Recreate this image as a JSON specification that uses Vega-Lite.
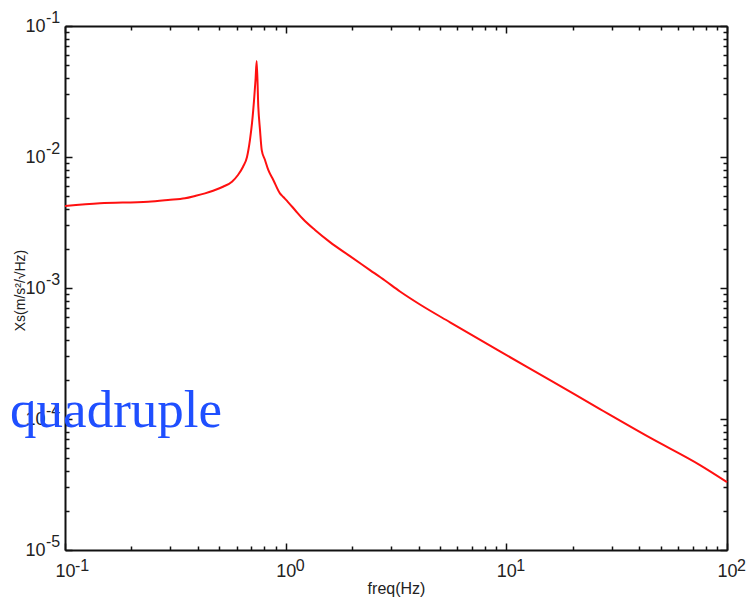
{
  "$schema": "https://vega.github.io/schema/vega-lite/v6.json",
  "width": 662,
  "height": 524,
  "autosize": "none",
  "padding": {"left": 65, "top": 26, "right": 24, "bottom": 51},
  "background": "white",
  "config": {
    "view": {"stroke": null},
    "axis": {
      "domainColor": "#111111",
      "domainWidth": 2,
      "tickColor": "#111111",
      "tickWidth": 1.5,
      "grid": false,
      "labelFlush": false,
      "labelFont": "Liberation Sans",
      "labelFontSize": 18,
      "labelColor": "#222222",
      "titleFont": "Liberation Sans",
      "titleFontWeight": "normal",
      "titleColor": "#222222"
    }
  },
  "datasets": {
    "curve": [
      {"f": 0.1, "v": 0.00423},
      {"f": 0.144, "v": 0.00443},
      {"f": 0.238, "v": 0.00456},
      {"f": 0.293, "v": 0.0047},
      {"f": 0.35, "v": 0.00484},
      {"f": 0.388, "v": 0.00504},
      {"f": 0.431, "v": 0.00528},
      {"f": 0.469, "v": 0.00553},
      {"f": 0.52, "v": 0.00593},
      {"f": 0.571, "v": 0.00648},
      {"f": 0.608, "v": 0.00729},
      {"f": 0.641, "v": 0.00843},
      {"f": 0.668, "v": 0.0100},
      {"f": 0.689, "v": 0.0135},
      {"f": 0.704, "v": 0.0182},
      {"f": 0.719, "v": 0.0272},
      {"f": 0.73, "v": 0.0387},
      {"f": 0.739, "v": 0.054},
      {"f": 0.7516, "v": 0.0242},
      {"f": 0.765, "v": 0.0161},
      {"f": 0.779, "v": 0.0113},
      {"f": 0.806, "v": 0.00949},
      {"f": 0.834, "v": 0.00796},
      {"f": 0.879, "v": 0.00668},
      {"f": 0.942, "v": 0.00528},
      {"f": 0.976, "v": 0.00495},
      {"f": 1.025, "v": 0.00453},
      {"f": 1.102, "v": 0.00394},
      {"f": 1.198, "v": 0.00336},
      {"f": 1.358, "v": 0.00277},
      {"f": 1.588, "v": 0.00224},
      {"f": 1.956, "v": 0.00175},
      {"f": 2.41, "v": 0.00137},
      {"f": 2.818, "v": 0.00114},
      {"f": 3.297, "v": 0.00094},
      {"f": 4.06, "v": 0.000748},
      {"f": 5.56, "v": 0.000547},
      {"f": 9.36, "v": 0.000328},
      {"f": 15.78, "v": 0.000198},
      {"f": 26.57, "v": 0.000119},
      {"f": 44.77, "v": 0.000072},
      {"f": 75.44, "v": 0.0000445},
      {"f": 100, "v": 0.000033}
    ],
    "note": [
      {"f": 0.0564, "v": 0.0000869, "label": "quadruple"}
    ],
    "yexp": [
      {"f": 0.1, "v": 0.1, "e": "-1"},
      {"f": 0.1, "v": 0.01, "e": "-2"},
      {"f": 0.1, "v": 0.001, "e": "-3"},
      {"f": 0.1, "v": 0.0001, "e": "-4"},
      {"f": 0.1, "v": 0.00001, "e": "-5"}
    ],
    "xexp": [
      {"f": 0.1, "v": 0.00001, "e": "-1"},
      {"f": 1, "v": 0.00001, "e": "0"},
      {"f": 10, "v": 0.00001, "e": "1"},
      {"f": 100, "v": 0.00001, "e": "2"}
    ]
  },
  "layer": [
    {
      "data": {"name": "curve"},
      "mark": {"type": "line", "color": "#ff1010", "strokeWidth": 2, "interpolate": "monotone"},
      "encoding": {
        "x": {
          "field": "f", "type": "quantitative",
          "scale": {"type": "log", "domain": [0.1, 100], "nice": false},
          "axis": {
            "orient": "bottom",
            "title": "freq(Hz)",
            "titleFontSize": 16,
            "titlePadding": 0,
            "values": [0.1,0.2,0.3,0.4,0.5,0.6,0.7,0.8,0.9,1,2,3,4,5,6,7,8,9,10,20,30,40,50,60,70,80,90,100],
            "labelExpr": "datum.value == 0.1 || datum.value == 1 || datum.value == 10 || datum.value == 100 ? '10' : ''",
            "labelPadding": 19,
            "tickSize": {"condition": {"test": "datum.value == 0.1 || datum.value == 1 || datum.value == 10 || datum.value == 100", "value": -7}, "value": -4}
          }
        },
        "y": {
          "field": "v", "type": "quantitative",
          "scale": {"type": "log", "domain": [0.00001, 0.1], "nice": false},
          "axis": {
            "orient": "left",
            "title": "Xs(m/s²/√Hz)",
            "titleFontSize": 14,
            "titleX": -38,
            "titleY": 264,
            "values": [0.00001,0.00002,0.00003,0.00004,0.00005,0.00006,0.00007,0.00008,0.00009,0.0001,0.0002,0.0003,0.0004,0.0005,0.0006,0.0007,0.0008,0.0009,0.001,0.002,0.003,0.004,0.005,0.006,0.007,0.008,0.009,0.01,0.02,0.03,0.04,0.05,0.06,0.07,0.08,0.09,0.1],
            "labelExpr": "datum.value == 0.1 || datum.value == 0.01 || datum.value == 0.001 || datum.value == 0.0001 || datum.value == 0.00001 ? '10' : ''",
            "labelPadding": 27,
            "tickSize": {"condition": {"test": "datum.value == 0.1 || datum.value == 0.01 || datum.value == 0.001 || datum.value == 0.0001 || datum.value == 0.00001", "value": -7}, "value": -4}
          }
        }
      }
    },
    {
      "data": {"name": "curve"},
      "mark": {"type": "line", "opacity": 0},
      "encoding": {
        "x": {
          "field": "f", "type": "quantitative",
          "axis": {
            "orient": "top",
            "title": null,
            "labels": false,
            "values": [0.1,0.2,0.3,0.4,0.5,0.6,0.7,0.8,0.9,1,2,3,4,5,6,7,8,9,10,20,30,40,50,60,70,80,90,100],
            "tickSize": {"condition": {"test": "datum.value == 0.1 || datum.value == 1 || datum.value == 10 || datum.value == 100", "value": -7}, "value": -4}
          }
        },
        "y": {
          "field": "v", "type": "quantitative",
          "axis": {
            "orient": "right",
            "title": null,
            "labels": false,
            "values": [0.00001,0.00002,0.00003,0.00004,0.00005,0.00006,0.00007,0.00008,0.00009,0.0001,0.0002,0.0003,0.0004,0.0005,0.0006,0.0007,0.0008,0.0009,0.001,0.002,0.003,0.004,0.005,0.006,0.007,0.008,0.009,0.01,0.02,0.03,0.04,0.05,0.06,0.07,0.08,0.09,0.1],
            "tickSize": {"condition": {"test": "datum.value == 0.1 || datum.value == 0.01 || datum.value == 0.001 || datum.value == 0.0001 || datum.value == 0.00001", "value": -7}, "value": -4}
          }
        }
      }
    },
    {
      "data": {"name": "yexp"},
      "mark": {"type": "text", "font": "Liberation Sans", "fontSize": 16, "color": "#222222", "align": "left", "baseline": "alphabetic", "dx": -19, "dy": -3},
      "encoding": {
        "x": {"field": "f", "type": "quantitative", "axis": null},
        "y": {"field": "v", "type": "quantitative", "axis": null},
        "text": {"field": "e"}
      }
    },
    {
      "data": {"name": "xexp"},
      "mark": {"type": "text", "font": "Liberation Sans", "fontSize": 16, "color": "#222222", "align": "left", "baseline": "alphabetic", "dx": 10, "dy": 21},
      "encoding": {
        "x": {"field": "f", "type": "quantitative", "axis": null},
        "y": {"field": "v", "type": "quantitative", "axis": null},
        "text": {"field": "e"}
      }
    },
    {
      "data": {"name": "note"},
      "mark": {"type": "text", "font": "Liberation Serif", "fontSize": 53, "color": "#1f4fff", "align": "left", "baseline": "alphabetic"},
      "encoding": {
        "x": {"field": "f", "type": "quantitative", "axis": null},
        "y": {"field": "v", "type": "quantitative", "axis": null},
        "text": {"field": "label"}
      }
    }
  ],
  "resolve": {"axis": {"x": "independent", "y": "independent"}}
}
